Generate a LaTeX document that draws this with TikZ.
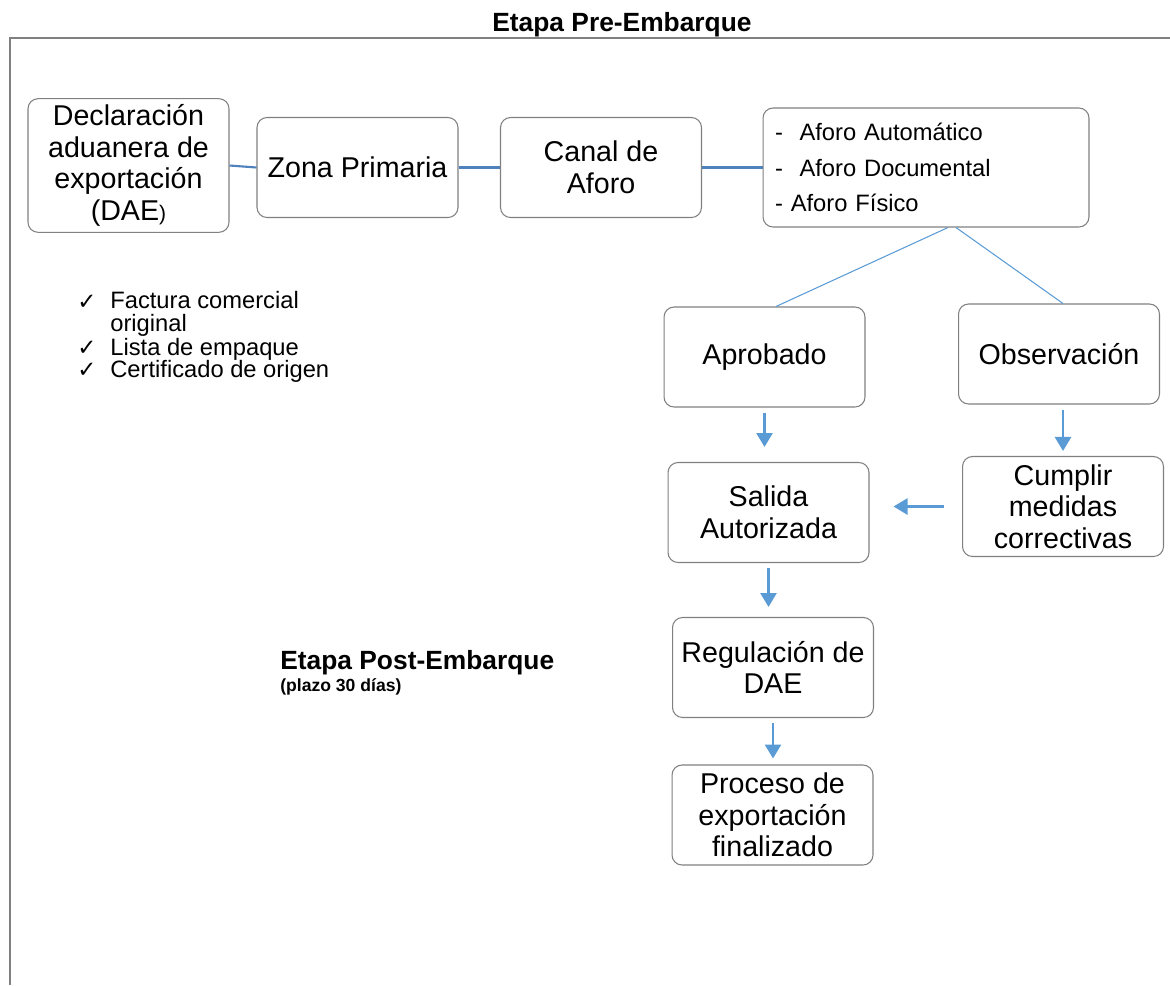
\documentclass[tikz,border=0pt]{standalone}
\usepackage{fontspec}
\setmainfont{Liberation Sans}
\newfontfamily\symbfont{DejaVu Sans}
\usepackage{xcolor}
\usetikzlibrary{arrows.meta,positioning}

\definecolor{linkblue}{HTML}{4F81BD}
\definecolor{arrowblue}{HTML}{5B9BD5}
\definecolor{boxgray}{HTML}{808080}

\begin{document}
\begin{tikzpicture}[x=0.02cm, y=-0.02cm,
  box/.style={draw=boxgray, rounded corners=2mm, line width=0.6pt, minimum width=4.02cm, minimum height=2cm, align=center, font=\fontsize{16.3}{18}\selectfont},
  listbox/.style={box, minimum width=6.52cm, minimum height=2.38cm, text width=6.04cm, inner xsep=0.24cm, align=left, font=\fontsize{13.5}{20}\selectfont},
  item/.style={anchor=west, inner sep=0pt, align=left, font=\fontsize{13.5}{13}\selectfont},
  tick/.style={inner sep=0pt, font=\symbfont\fontsize{13}{13}\selectfont},
  heading/.style={inner sep=0pt, font=\bfseries\fontsize{15}{17}\selectfont},
  link/.style={draw=linkblue, line width=1.2pt},
  branch/.style={draw=arrowblue, line width=0.6pt},
  arrow/.style={-{Triangle[length=2.8mm,width=3.2mm]}, arrowblue, line width=1.5pt}
]
\useasboundingbox (0,0) rectangle (1170,985);

% marco
\draw[boxgray, line width=0.9pt] (10,985) -- (10,38) -- (1170,38);
\node[heading] (pre) at (622,25) {Etapa Pre-Embarque};

% fila superior
\node[box, minimum height=2.5cm] (dae) at (128.5,165.5) {Declaración\\aduanera de\\exportación\\(DAE{\fontsize{12}{14}\selectfont)}};
\node[box] (zona) at (357.5,167.5) {Zona Primaria};
\node[box] (canal) at (601,167.5) {Canal de\\Aforo};
\node[listbox] (aforo) at (926,167.5) {-\hspace{0.7em}Aforo Automático\\-\hspace{0.7em}Aforo Documental\\- Aforo Físico};

\draw[link] (dae.east) -- (zona.west);
\draw[link] (zona.east) -- (canal.west);
\draw[link] (canal.east) -- (aforo.west);

% documentos
\node[tick] (chk1) at (87,302) {✓};
\node[tick] (chk2) at (87,348) {✓};
\node[tick] (chk3) at (87,370) {✓};
\node[item] (doc1) at (110,314) {Factura comercial\\original};
\node[item] (doc2) at (110,349) {Lista de empaque};
\node[item] (doc3) at (110,371) {Certificado de origen};

% resultado del aforo
\node[box] (aprob) at (764.5,357) {Aprobado};
\node[box] (obs) at (1059,354) {Observación};
\node[box] (salida) at (768.5,512.5) {Salida\\Autorizada};
\node[box] (cumplir) at (1063,506.5) {Cumplir\\medidas\\correctivas};

\draw[branch] ([xshift=0.44cm]aforo.south) -- ([xshift=0.23cm]aprob.north);
\draw[branch] ([xshift=0.6cm]aforo.south) -- ([xshift=0.08cm]obs.north);

\draw[arrow, shorten <=1mm, shorten >=3mm] (aprob.south) -- (aprob.south |- salida.north);
\draw[arrow, shorten <=1mm, shorten >=1mm] (obs.south -| cumplir.north) -- (cumplir.north);
\draw[arrow, shorten <=3.6mm, shorten >=4.8mm] (cumplir.west) -- (cumplir.west -| salida.east);

% post-embarque
\node[heading, anchor=west] (post) at (280,663) {Etapa Post-Embarque};
\node[heading, anchor=west, font=\bfseries\fontsize{10}{12}\selectfont] (plazo) at (280,687) {(plazo 30 días)};

\node[box] (regul) at (773,667.5) {Regulación de\\DAE};
\node[box] (proceso) at (772.5,815) {Proceso de\\exportación\\finalizado};

\draw[arrow, shorten <=1mm, shorten >=2mm] (salida.south) -- (salida.south |- regul.north);
\draw[arrow, shorten <=1mm, shorten >=1.2mm] (regul.south) -- (regul.south |- proceso.north);
\end{tikzpicture}
\end{document}
